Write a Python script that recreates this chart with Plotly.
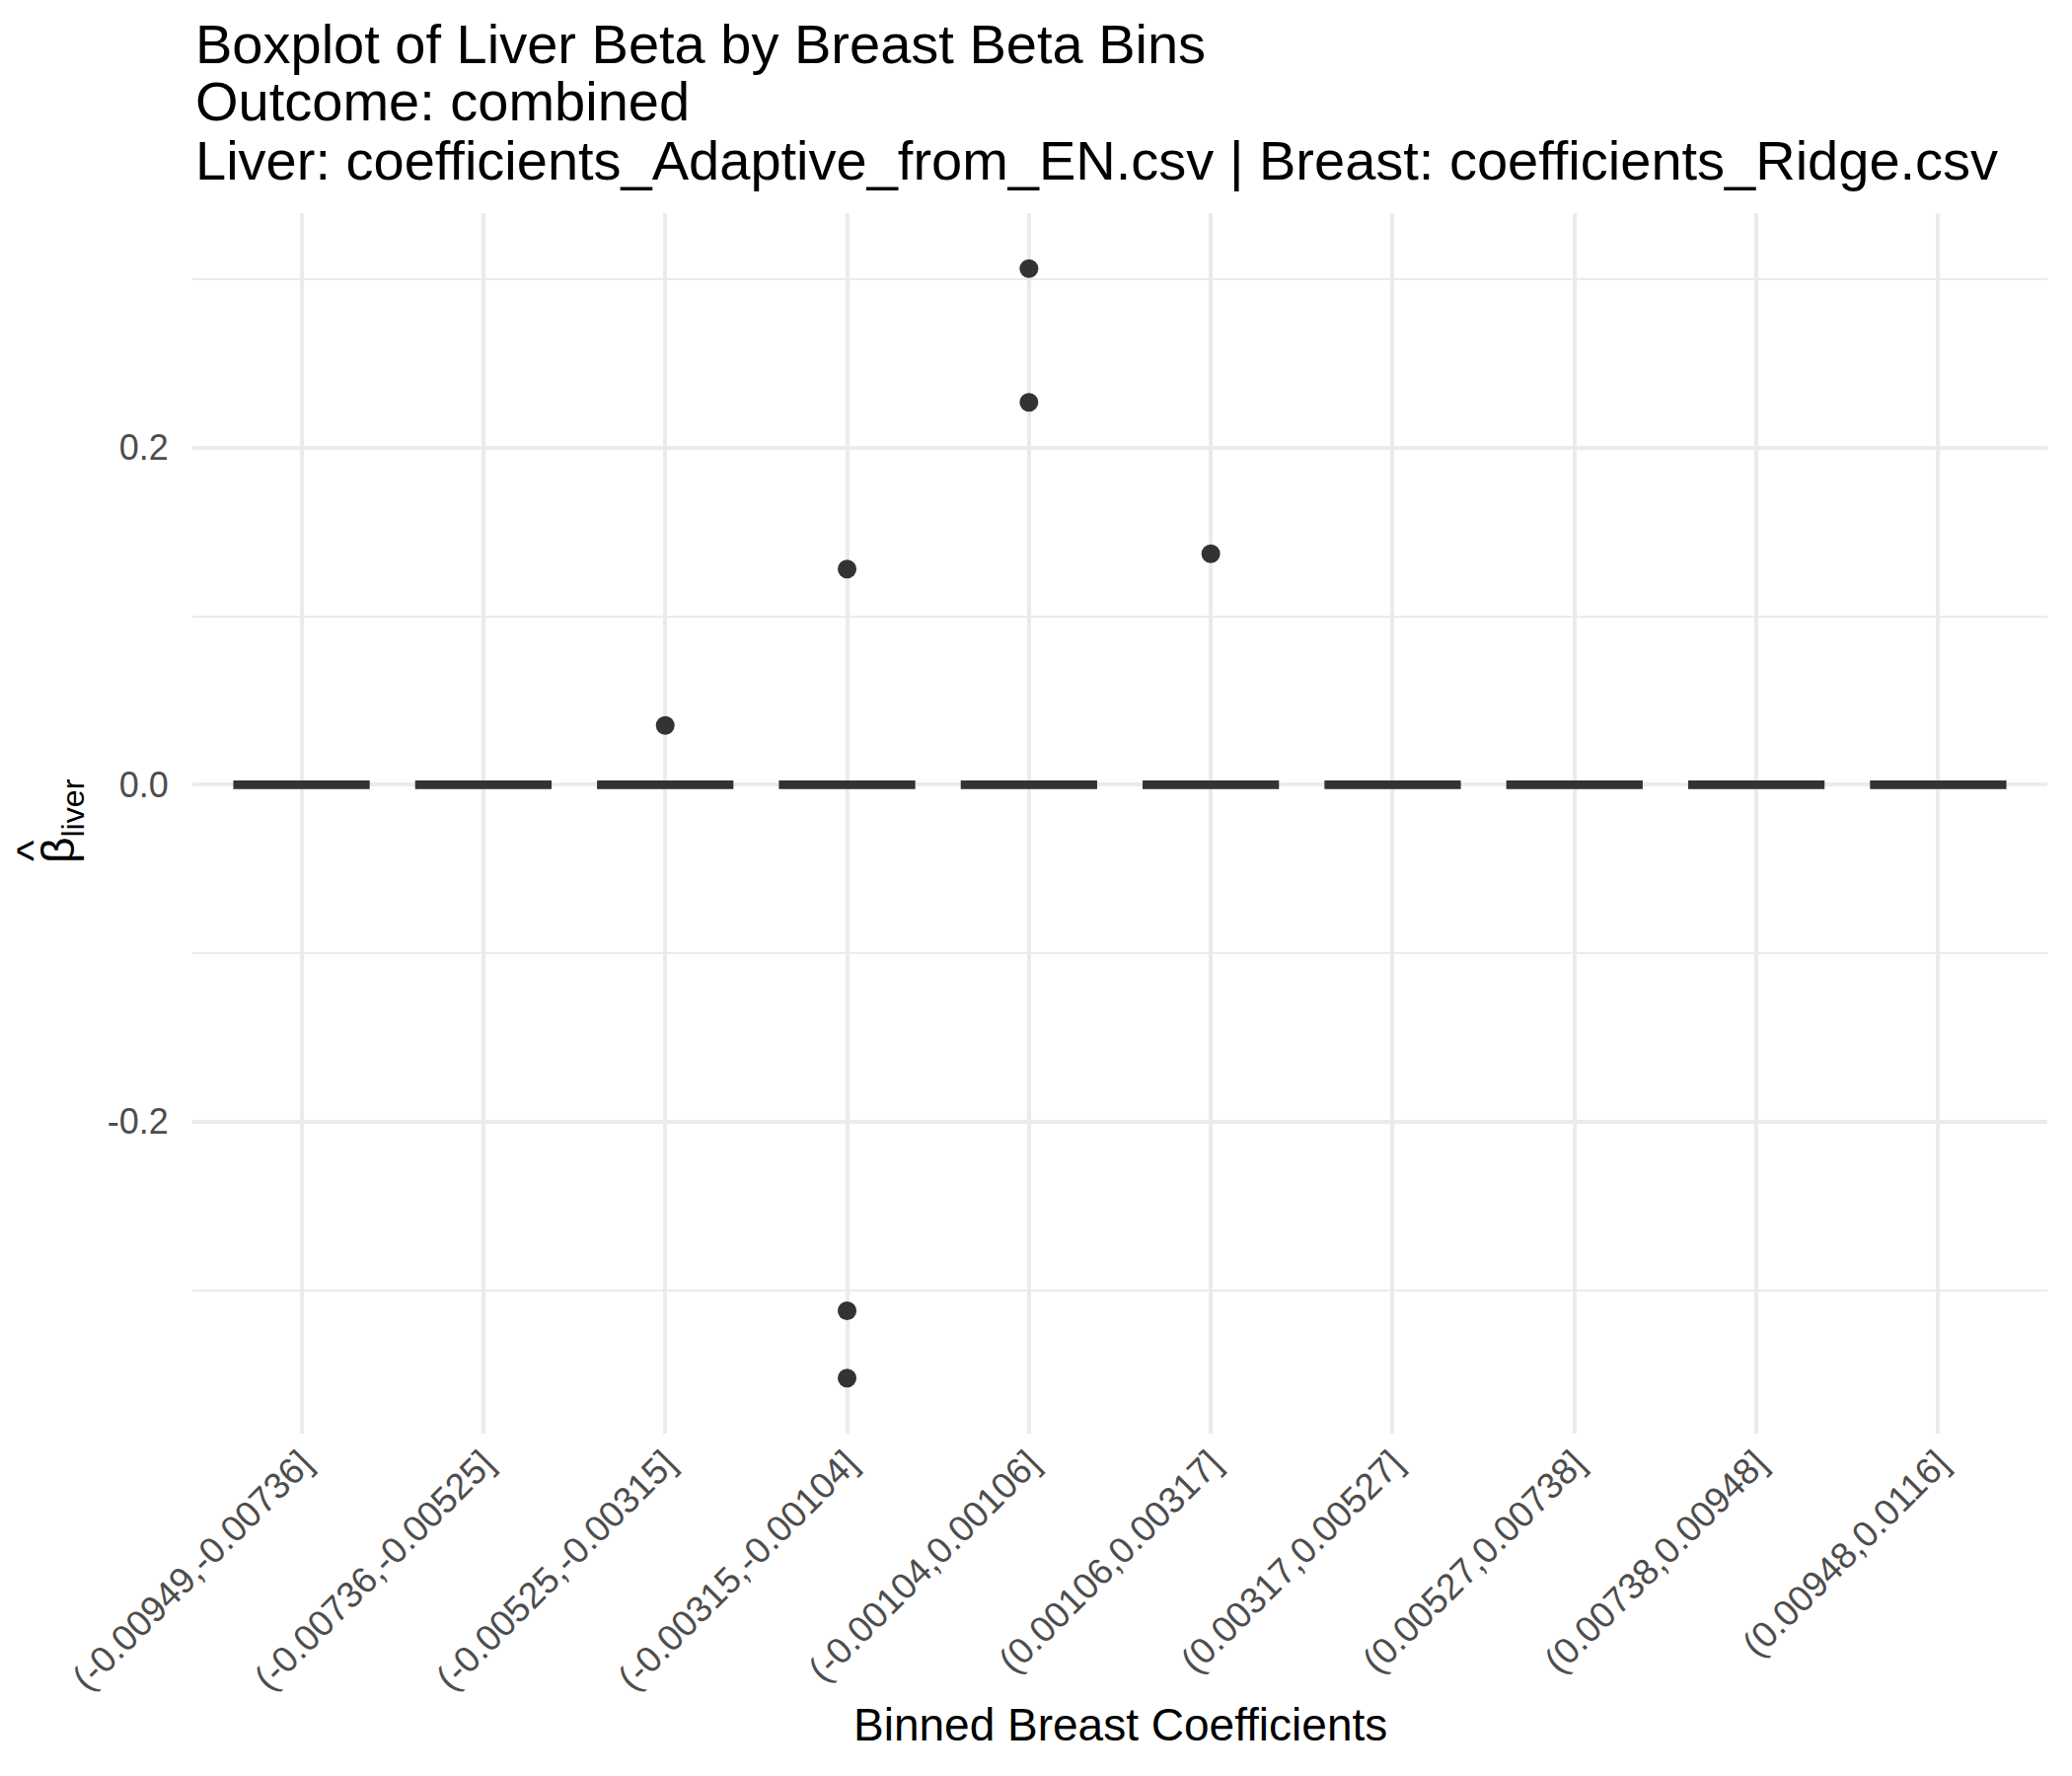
import plotly.graph_objects as go

# ---- data ----
bins = ["(-0.00949,-0.00736]", "(-0.00736,-0.00525]", "(-0.00525,-0.00315]",
        "(-0.00315,-0.00104]", "(-0.00104,0.00106]", "(0.00106,0.00317]",
        "(0.00317,0.00527]", "(0.00527,0.00738]", "(0.00738,0.00948]",
        "(0.00948,0.0116]"]
q1 = [0, 0, 0, 0, 0, 0, 0, 0, 0, 0]
median = [0, 0, 0, 0, 0, 0, 0, 0, 0, 0]
q3 = [0, 0, 0, 0, 0, 0, 0, 0, 0, 0]
lower_fence = [0, 0, 0, 0, 0, 0, 0, 0, 0, 0]
upper_fence = [0, 0, 0, 0, 0, 0, 0, 0, 0, 0]

outlier_bins = ["(-0.00525,-0.00315]", "(-0.00315,-0.00104]", "(-0.00315,-0.00104]",
                "(-0.00315,-0.00104]", "(-0.00104,0.00106]", "(-0.00104,0.00106]",
                "(0.00106,0.00317]"]
outlier_vals = [0.0352, 0.128, -0.3122, -0.3522, 0.3063, 0.2269, 0.137]

y_ticks = [-0.2, 0.0, 0.2]
y_tick_text = ["-0.2", "0.0", "0.2"]

title_lines = ["Boxplot of Liver Beta by Breast Beta Bins",
               "Outcome: combined",
               "Liver: coefficients_Adaptive_from_EN.csv | Breast: coefficients_Ridge.csv"]

FONT = "Liberation Sans, Arial, Helvetica, sans-serif"
DARK = "#333333"
GRID = "#EBEBEB"

fig = go.Figure()
fig.add_trace(go.Box(
    x=bins, q1=q1, median=median, q3=q3,
    lowerfence=lower_fence, upperfence=upper_fence,
    width=0.75, boxpoints=False,
    fillcolor="white", line=dict(color=DARK, width=8.7),
    showlegend=False, hoverinfo="skip",
))
fig.add_trace(go.Scatter(
    x=outlier_bins, y=outlier_vals, mode="markers",
    marker=dict(color=DARK, size=19, line=dict(width=0)),
    showlegend=False,
))

L, R, T, B = 195, 25, 216, 347
H = 1800 - T - B

def py(pix):
    return (1800 - B - pix) / H

annotations = []
for line, ypix in zip(title_lines, [44, 102, 163]):
    annotations.append(dict(
        text=line, x=0, xref="paper", xanchor="left", xshift=198 - L - 2,
        y=py(ypix), yref="paper", yanchor="middle", showarrow=False,
        font=dict(family=FONT, size=56, color="black"),
    ))
annotations.append(dict(
    text="Binned Breast Coefficients", x=0.5, xref="paper", xanchor="center",
    y=py(1748), yref="paper", yanchor="middle", showarrow=False,
    font=dict(family=FONT, size=46, color="black"),
))
annotations.append(dict(
    text="β<sub>liver</sub>", x=0, xref="paper", xanchor="center", xshift=62 - L,
    y=py(832), yref="paper", yanchor="middle", showarrow=False, textangle=-90,
    font=dict(family=FONT, size=46, color="black"),
))
annotations.append(dict(
    text="^", x=0, xref="paper", xanchor="center", xshift=33 - L,
    y=py(862), yref="paper", yanchor="middle", showarrow=False, textangle=-90,
    font=dict(family=FONT, size=46, color="black"),
))

fig.update_layout(
    width=2100, height=1800,
    margin=dict(l=L, r=R, t=T, b=B, pad=0),
    paper_bgcolor="white", plot_bgcolor="white",
    annotations=annotations,
    xaxis=dict(
        type="category", categoryorder="array", categoryarray=bins,
        range=[-0.6, 9.6], showgrid=True, gridcolor=GRID, gridwidth=4,
        zeroline=False, showline=False,
        ticks="", ticklen=0,
        tickangle=-45,
        tickfont=dict(family=FONT, size=37, color="#4D4D4D"),
    ),
    yaxis=dict(
        range=[-0.3851, 0.3392], tickvals=y_ticks, ticktext=y_tick_text,
        showgrid=True, gridcolor=GRID, gridwidth=4,
        minor=dict(dtick=0.1, tick0=0.1, showgrid=True, gridcolor=GRID, gridwidth=2),
        zeroline=False, showline=False,
        ticks="outside", ticklen=16, tickcolor="rgba(0,0,0,0)",
        tickfont=dict(family=FONT, size=36, color="#4D4D4D"),
    ),
)

fig.write_html("out.html")
